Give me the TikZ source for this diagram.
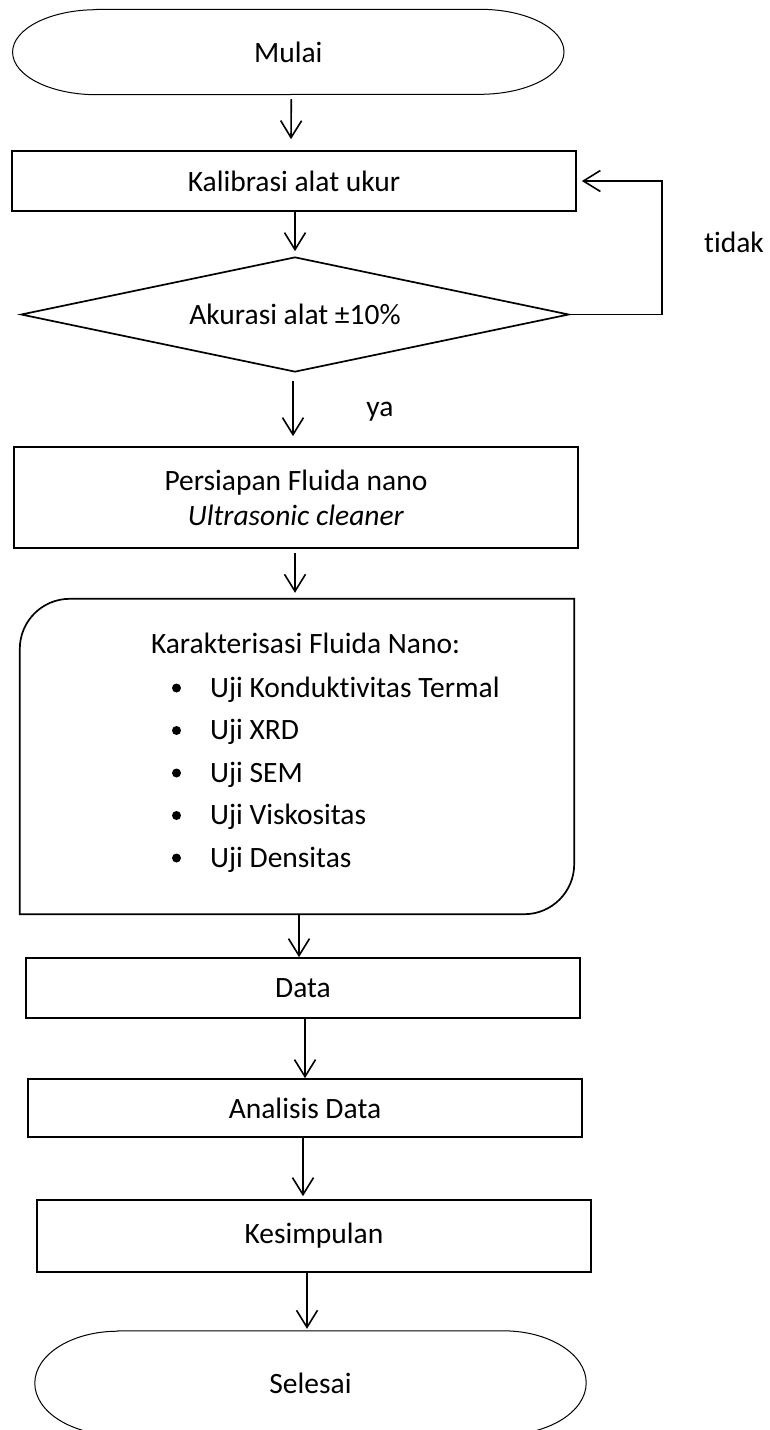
\documentclass[tikz,border=0pt]{standalone}
\usepackage{fontspec}
\setmainfont[Ligatures=NoCommon]{Carlito}
\usetikzlibrary{arrows.meta,shapes.geometric}
\begin{document}
\begin{tikzpicture}[x=1pt,y=-1pt,
  every node/.style={font=\fontsize{29.5}{35}\selectfont, inner sep=0pt},
  boxline/.style={draw=black, line width=1.7pt},
  termline/.style={draw=black, line width=1pt},
  arr/.style={draw=black, line width=1.6pt, -{Straight Barb[length=17pt,width=21pt]}},
  procbox/.style={boxline, rectangle},
  dot/.style={circle, fill=black, minimum size=9pt}
]
\useasboundingbox (0,0) rectangle (770,1430);
\clip (0,0) rectangle (770,1430);

% Start terminal
\node[minimum width=551pt, minimum height=85pt] (mulai) at (288.3,52) {Mulai};
\draw[termline] ([xshift=84pt]mulai.north west) -- ([xshift=-84pt]mulai.north east)
  arc[start angle=90,end angle=-90,x radius=84pt,y radius=42.5pt]
  -- ([xshift=84pt]mulai.south west)
  arc[start angle=270,end angle=90,x radius=84pt,y radius=42.5pt] -- cycle;

% Process boxes
\node[procbox, minimum width=564pt, minimum height=60pt] (kal) at (294,181) {Kalibrasi alat ukur};
\node[boxline, diamond, aspect=4.77, minimum width=548pt, minimum height=115pt] (dec) at (295,314.5) {Akurasi alat ±10\%};
\node[procbox, minimum width=564pt, minimum height=101pt, align=center] (prep) at (296,497.5)
  {Persiapan Fluida nano\\\textit{Ultrasonic cleaner}};

% Card shape
\node[minimum width=554pt, minimum height=315pt] (card) at (297,756.5) {};
\draw[boxline] (card.north east) -- ([yshift=50pt]card.south east)
  arc[start angle=0,end angle=-90,radius=50pt] -- (card.south west)
  -- ([yshift=-50pt]card.north west)
  arc[start angle=180,end angle=90,radius=50pt] -- cycle;
\node[anchor=base] (kh) at (305.5,653) {Karakterisasi Fluida Nano:};
\node[dot] (b1) at (176.5,688) {};
\node[dot] (b2) at (176.5,730.5) {};
\node[dot] (b3) at (176.5,773) {};
\node[dot] (b4) at (176.5,815.5) {};
\node[dot] (b5) at (176.5,858) {};
\node[anchor=base west] (k1) at (210,697) {Uji Konduktivitas Termal};
\node[anchor=base west] (k2) at (210,739.5) {Uji XRD};
\node[anchor=base west] (k3) at (210,782) {Uji SEM};
\node[anchor=base west] (k4) at (210,824.5) {Uji Viskositas};
\node[anchor=base west] (k5) at (210,867) {Uji Densitas};

\node[procbox, minimum width=554pt, minimum height=60pt] (data) at (303,988) {Data};
\node[procbox, minimum width=554pt, minimum height=58pt] (ana) at (305,1108) {Analisis Data};
\node[procbox, minimum width=554pt, minimum height=72pt] (kes) at (314,1236) {Kesimpulan};

% End terminal
\node[minimum width=551pt, minimum height=104pt] (sel) at (310.5,1383) {Selesai};
\draw[termline] ([xshift=83pt]sel.north west) -- ([xshift=-83pt]sel.north east)
  arc[start angle=90,end angle=-90,x radius=83pt,y radius=52pt]
  -- ([xshift=83pt]sel.south west)
  arc[start angle=270,end angle=90,x radius=83pt,y radius=52pt] -- cycle;

% Labels
\node (tidak) at (734,242) {tidak};
\node (ya) at (380,411.5) {ya};

% Connectors
\coordinate (lx) at (662,0);
\draw[arr] ([xshift=3pt,yshift=-4.5pt]mulai.south) -- ([xshift=-3pt,yshift=11pt]kal.north);
\draw[arr] ([xshift=1pt]kal.south) -- ([yshift=5pt]dec.north);
\draw[arr] ([xshift=-2pt,yshift=-8pt]dec.south) -- ([xshift=-3pt,yshift=10pt]prep.north);
\draw[arr] ([xshift=-1pt,yshift=-4pt]prep.south) -- ([xshift=-2pt,yshift=6pt]card.north);
\draw[arr] ([xshift=2pt]card.south) -- ([xshift=-4pt]data.north);
\draw[arr] ([xshift=2pt]data.south) -- (ana.north);
\draw[arr] ([xshift=-2pt]ana.south) -- ([xshift=-11pt,yshift=3pt]kes.north);
\draw[arr] ([xshift=-7pt]kes.south) -- ([xshift=-3.5pt,yshift=2pt]sel.north);
\draw[arr] (dec.east) -- (dec.east -| lx) |- ([xshift=5pt]kal.east);
\end{tikzpicture}
\end{document}
